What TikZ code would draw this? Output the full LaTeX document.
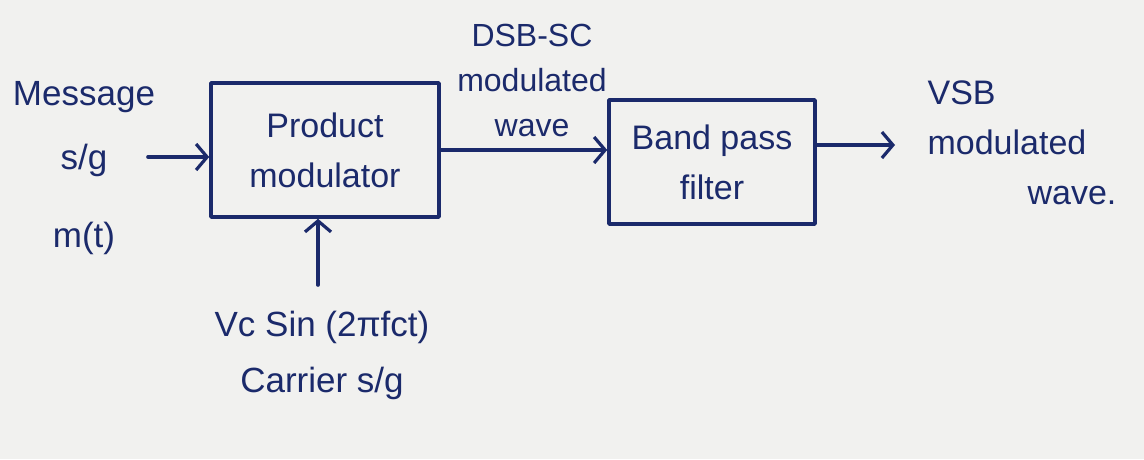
\documentclass[tikz,border=0pt]{standalone}
\usepackage{fontspec}
\setmainfont{Liberation Sans}
\usetikzlibrary{arrows.meta}
\definecolor{ink}{HTML}{1B2A6B}
\definecolor{paper}{HTML}{F1F1EF}
\begin{document}
\begin{tikzpicture}[x=1pt,y=-1pt,
  ink line/.style={draw=ink,line width=3.6pt,line cap=round,line join=round},
  flow/.style={ink line,-{Straight Barb[length=11pt,width=26pt,line width=3.2pt]}},
  block/.style={ink line,rectangle,minimum width=#1,align=center,text=ink,font=\fontsize{34}{50}\selectfont},
  lbl/.style={text=ink,align=center,font=\fontsize{34}{45}\selectfont,inner sep=0pt}]
\fill[paper] (0,0) rectangle (1144,459);
\useasboundingbox (0,0) rectangle (1144,459);
% blocks
\node[block=228pt,minimum height=134pt] (pm) at (325,150) {Product\\modulator};
\node[block=206pt,minimum height=124pt] (bpf) at (712,162) {Band pass\\filter};
% labels
\node[lbl,font=\fontsize{35}{64}\selectfont] (msg) at (84,168) {Message\\s/g\\[14pt]m(t)};
\node[lbl,font=\fontsize{32}{45}\selectfont] (dsb) at (532,80) {DSB-SC\\modulated\\wave};
\node[lbl,font=\fontsize{35}{56}\selectfont] (car) at (322,355) {Vc Sin (2πfct)\\Carrier s/g};
\node[lbl,align=left,font=\fontsize{34}{50}\selectfont] (vsb) at (1022,143) {VSB\\modulated\\\hspace*{100pt}wave.};
% connectors
\coordinate (msgend) at (148,157);
\coordinate (carend) at (318,285);
\coordinate (vsbend) at (895,145);
\draw[flow] (msgend) -- (pm.west |- msgend);
\draw[flow] (carend) -- (carend |- pm.south);
\draw[flow] (pm.east |- 0,150) -- (bpf.west |- 0,150);
\draw[flow] (bpf.east |- vsbend) -- (vsbend);
\end{tikzpicture}
\end{document}
